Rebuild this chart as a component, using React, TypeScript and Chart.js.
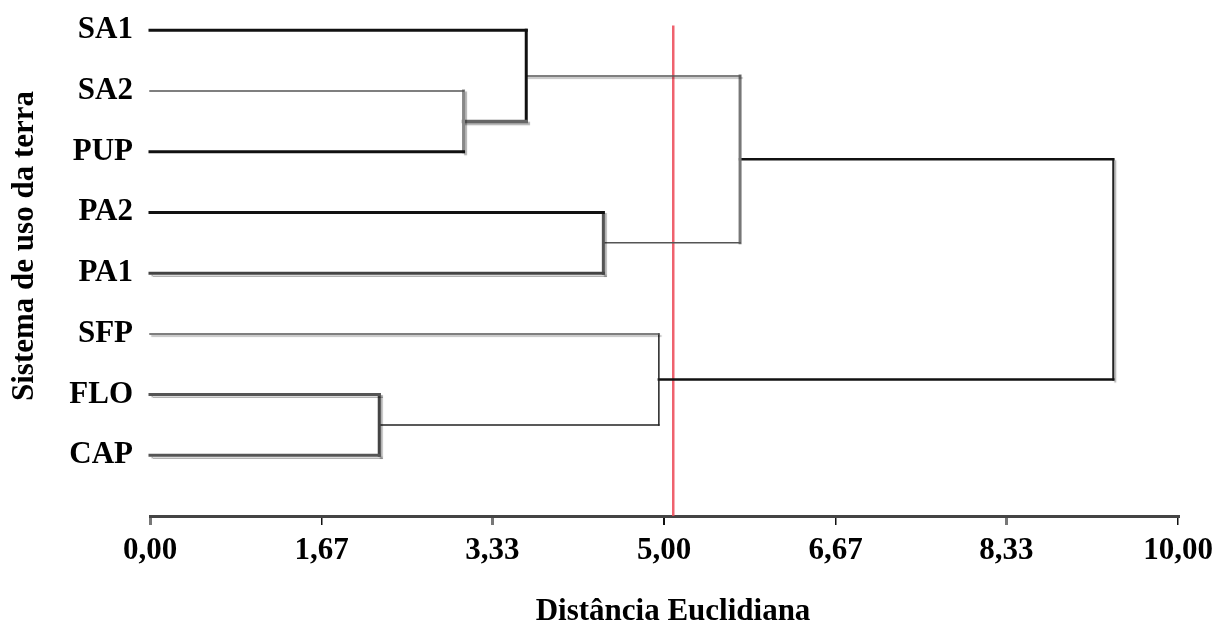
import React, { useEffect, useRef } from "react";
import { Chart, registerables } from "chart.js";

Chart.register(...registerables);

// ---- data ----
const leaves = ["SA1", "SA2", "PUP", "PA2", "PA1", "SFP", "FLO", "CAP"];
// merges create nodes 8, 9, 10, ... in this order (ids < 8 are leaves)
const mergeLeft = [1, 0, 3, 9, 6, 5, 11];
const mergeRight = [2, 8, 4, 10, 7, 12, 13];
const mergeHeight = [3.05, 3.66, 4.41, 5.74, 2.23, 4.95, 9.37];
const cutoff = 5.09;
const xTicks = [0, 1.67, 3.33, 5, 6.67, 8.33, 10];
const xTickLabels = ["0,00", "1,67", "3,33", "5,00", "6,67", "8,33", "10,00"];
const xTitle = "Distância Euclidiana";
const yTitle = "Sistema de uso da terra";

// ---- styles ----
type St = { c: string; w: number; s?: boolean };
const branchStyle: St[] = [
  { c: "#111", w: 3 },
  { c: "#555", w: 1.5 },
  { c: "#111", w: 3 },
  { c: "#111", w: 3 },
  { c: "#444", w: 3, s: true },
  { c: "#555", w: 1.5, s: true },
  { c: "#555", w: 3, s: true },
  { c: "#555", w: 3, s: true },
  { c: "#666", w: 3.5, s: true },
  { c: "#555", w: 1.5, s: true },
  { c: "#555", w: 1.5 },
  { c: "#111", w: 2.5 },
  { c: "#222", w: 1.5 },
  { c: "#111", w: 2.5 },
];
const vertStyle: St[] = [
  { c: "#888", w: 3, s: true },
  { c: "#111", w: 3 },
  { c: "#555", w: 3, s: true },
  { c: "#777", w: 3 },
  { c: "#444", w: 3, s: true },
  { c: "#222", w: 1.5 },
  { c: "#222", w: 2, s: true },
];
const tickColors = ["#777", "#111", "#777", "#111", "#111", "#777", "#111"];
const tickWidths = [3, 1.5, 3, 2, 1.5, 3, 1.5];
const FONT = "'Liberation Serif', 'Times New Roman', serif";
const FS = 31;

function buildDatasets() {
  const n = leaves.length;
  const nodeY: number[] = leaves.map((_, i) => i);
  const nodeH: number[] = leaves.map(() => 0);
  const ds: any[] = [];
  const mk = (pts: { x: number; y: number }[], st: St) => ({
    data: pts,
    borderColor: st.c,
    borderWidth: st.w,
    pointRadius: 0,
    borderCapStyle: "square",
    clip: false,
    shadow: !!st.s,
    tension: 0,
  });
  mergeHeight.forEach((h, k) => {
    const L = mergeLeft[k];
    const R = mergeRight[k];
    [L, R].forEach((c) => {
      ds.push(mk([{ x: nodeH[c], y: nodeY[c] }, { x: h, y: nodeY[c] }], branchStyle[c]));
    });
    ds.push(mk([{ x: h, y: nodeY[L] }, { x: h, y: nodeY[R] }], vertStyle[k]));
    nodeY[n + k] = (nodeY[L] + nodeY[R]) / 2;
    nodeH[n + k] = h;
  });
  ds.push({
    data: [{ x: cutoff, y: -0.08 }, { x: cutoff, y: 8 }],
    borderColor: "rgba(236,70,85,0.85)",
    borderWidth: 2.5,
    pointRadius: 0,
    clip: false,
    shadow: false,
  });
  return ds;
}

const shadowPlugin = {
  id: "shadowPlugin",
  beforeDatasetDraw(chart: any, args: any) {
    const ctx = chart.ctx;
    ctx.save();
    const d = chart.data.datasets[args.index];
    if (d.shadow) {
      ctx.shadowColor = "rgba(0,0,0,0.3)";
      ctx.shadowOffsetX = 2;
      ctx.shadowOffsetY = 2;
      ctx.shadowBlur = 1;
    }
  },
  afterDatasetDraw(chart: any) {
    chart.ctx.restore();
  },
};

const titlePlugin = {
  id: "titlePlugin",
  afterDraw(chart: any) {
    const ctx = chart.ctx;
    const a = chart.chartArea;
    ctx.save();
    ctx.fillStyle = "#000";
    ctx.font = `bold ${FS}px ${FONT}`;
    ctx.textAlign = "center";
    ctx.textBaseline = "alphabetic";
    ctx.fillText(xTitle, a.left + 523, a.bottom + 104);
    ctx.translate(33, a.top + 246);
    ctx.rotate(-Math.PI / 2);
    ctx.fillText(yTitle, 0, 0);
    ctx.restore();
  },
};

export default function App() {
  const ref = useRef<HTMLCanvasElement>(null);
  useEffect(() => {
    if (!ref.current) return;
    const chart = new Chart(ref.current, {
      type: "line",
      data: { datasets: buildDatasets() },
      plugins: [shadowPlugin, titlePlugin],
      options: {
        animation: false,
        responsive: false,
        events: [],
        layout: { padding: { left: 0, right: 51, top: 0, bottom: 0 } },
        plugins: { legend: { display: false }, tooltip: { enabled: false } },
        scales: {
          x: {
            type: "linear",
            min: 0,
            max: 10,
            afterBuildTicks: (s: any) => {
              s.ticks = xTicks.map((v) => ({ value: v }));
            },
            afterFit: (s: any) => {
              s.height = 108;
              s.paddingLeft = 0;
              s.paddingRight = 0;
            },
            ticks: {
              autoSkip: false,
              maxRotation: 0,
              padding: 7,
              color: "#000",
              font: { family: FONT, size: FS, weight: "bold" },
              callback: (_v: any, i: number) => xTickLabels[i],
            },
            grid: {
              drawOnChartArea: false,
              drawTicks: true,
              tickLength: 9,
              color: tickColors,
              lineWidth: tickWidths,
            },
            border: { display: true, color: "#444", width: 3 },
          },
          y: {
            type: "linear",
            min: -0.5,
            max: 8,
            reverse: true,
            afterBuildTicks: (s: any) => {
              s.ticks = leaves.map((_, i) => ({ value: i }));
            },
            afterFit: (s: any) => {
              s.width = 150;
              s.paddingTop = 0;
              s.paddingBottom = 0;
            },
            ticks: {
              autoSkip: false,
              padding: 17,
              color: "#000",
              font: { family: FONT, size: FS, weight: "bold" },
              callback: (v: any) => leaves[v as number],
            },
            grid: { display: false, drawTicks: false },
            border: { display: false },
          },
        },
      } as any,
    });
    return () => chart.destroy();
  }, []);
  return (
    <div style={{ position: "absolute", left: 0, top: 0, width: 1229, height: 624, background: "#fff" }}>
      <canvas ref={ref} width={1229} height={624} style={{ display: "block" }} />
    </div>
  );
}
